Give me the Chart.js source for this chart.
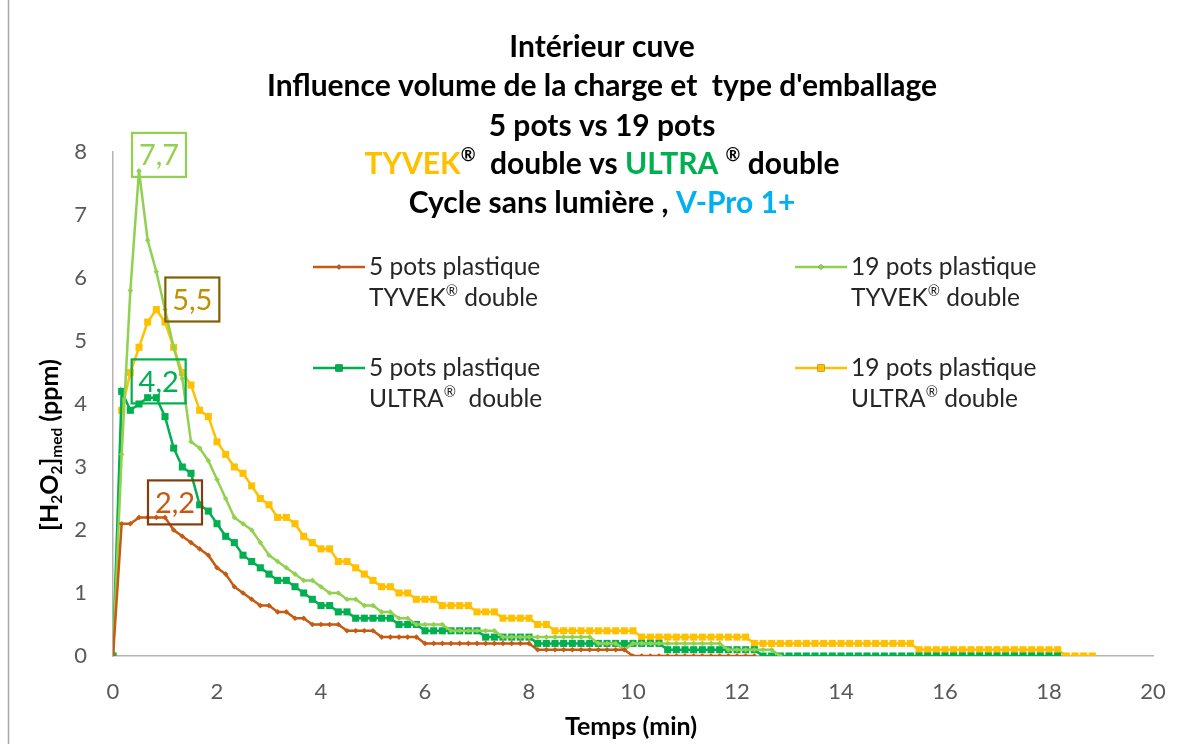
<!DOCTYPE html>
<html>
<head>
<meta charset="utf-8">
<script src="https://cdn.jsdelivr.net/npm/chart.js@4.4.1/dist/chart.umd.min.js"></script>
<style>
  html, body { margin: 0; padding: 0; background: #fff; }
  #wrap { width: 1192px; height: 744px; position: relative; }
</style>
</head>
<body>
<div id="wrap"><canvas id="chart" width="1192" height="744"></canvas></div>
<script>
(function () {
  'use strict';

  // one H2O2 reading every 10 s
  var stepMin = 10 / 60;

  var xTicks = [0, 2, 4, 6, 8, 10, 12, 14, 16, 18, 20];
  var yTicks = [0, 1, 2, 3, 4, 5, 6, 7, 8];

  var seriesNames = [
    ['5 pots plastique', 'TYVEK® double'],
    ['19 pots plastique', 'TYVEK® double'],
    ['5 pots plastique', 'ULTRA®  double'],
    ['19 pots plastique', 'ULTRA® double']
  ];

  // 5 pots plastique, TYVEK double
  var tyvek5 = [
    0, 2.1, 2.1, 2.2, 2.2, 2.2, 2.2, 2.0, 1.9, 1.8,
    1.7, 1.6, 1.4, 1.3, 1.1, 1.0, 0.9, 0.8, 0.8, 0.7,
    0.7, 0.6, 0.6, 0.5, 0.5, 0.5, 0.5, 0.4, 0.4, 0.4,
    0.4, 0.3, 0.3, 0.3, 0.3, 0.3, 0.2, 0.2, 0.2, 0.2,
    0.2, 0.2, 0.2, 0.2, 0.2, 0.2, 0.2, 0.2, 0.2, 0.1,
    0.1, 0.1, 0.1, 0.1, 0.1, 0.1, 0.1, 0.1, 0.1, 0.1,
    0, 0, 0, 0, 0, 0, 0, 0, 0, 0,
    0, 0, 0, 0, 0
  ];

  // 19 pots plastique, TYVEK double
  var tyvek19 = [
    0, 3.2, 5.8, 7.7, 6.6, 6.1, 5.5, 4.9, 4.4, 3.4,
    3.3, 3.1, 2.8, 2.5, 2.2, 2.1, 2.0, 1.8, 1.6, 1.5,
    1.4, 1.3, 1.2, 1.2, 1.1, 1.0, 1.0, 0.9, 0.9, 0.8,
    0.8, 0.7, 0.7, 0.6, 0.6, 0.5, 0.5, 0.5, 0.5, 0.4,
    0.4, 0.4, 0.4, 0.4, 0.4, 0.3, 0.3, 0.3, 0.3, 0.3,
    0.3, 0.3, 0.3, 0.3, 0.3, 0.3, 0.2, 0.2, 0.2, 0.1,
    0.2, 0.2, 0.2, 0.2, 0.2, 0.2, 0.2, 0.2, 0.2, 0.2,
    0.2, 0.1, 0.1, 0.1, 0.1, 0.1, 0.1, 0
  ];

  // 5 pots plastique, ULTRA double
  var ultra5 = [
    0, 4.2, 3.9, 4.0, 4.1, 4.1, 3.8, 3.3, 3.0, 2.9,
    2.4, 2.3, 2.1, 1.9, 1.8, 1.6, 1.5, 1.4, 1.3, 1.2,
    1.2, 1.1, 1.0, 0.9, 0.8, 0.8, 0.7, 0.7, 0.6, 0.6,
    0.6, 0.6, 0.6, 0.5, 0.5, 0.5, 0.4, 0.4, 0.4, 0.4,
    0.4, 0.4, 0.4, 0.3, 0.3, 0.3, 0.3, 0.3, 0.3, 0.2,
    0.2, 0.2, 0.2, 0.2, 0.2, 0.2, 0.2, 0.2, 0.2, 0.2,
    0.2, 0.2, 0.2, 0.2, 0.1, 0.1, 0.1, 0.1, 0.1, 0.1,
    0.1, 0.1, 0.1, 0.1, 0.1, 0, 0, 0, 0, 0,
    0, 0, 0, 0, 0, 0, 0, 0, 0, 0,
    0, 0, 0, 0, 0, 0, 0, 0, 0, 0,
    0, 0, 0, 0, 0, 0, 0, 0, 0, 0
  ];

  // 19 pots plastique, ULTRA double
  var ultra19 = [
    0, 3.9, 4.5, 4.9, 5.3, 5.5, 5.3, 4.9, 4.5, 4.3,
    3.9, 3.8, 3.4, 3.2, 3.0, 2.9, 2.7, 2.5, 2.4, 2.2,
    2.2, 2.1, 1.9, 1.8, 1.7, 1.7, 1.5, 1.5, 1.4, 1.3,
    1.2, 1.1, 1.1, 1.0, 1.0, 0.9, 0.9, 0.9, 0.8, 0.8,
    0.8, 0.8, 0.7, 0.7, 0.7, 0.6, 0.6, 0.6, 0.6, 0.5,
    0.5, 0.4, 0.4, 0.4, 0.4, 0.4, 0.4, 0.4, 0.4, 0.4,
    0.4, 0.3, 0.3, 0.3, 0.3, 0.3, 0.3, 0.3, 0.3, 0.3,
    0.3, 0.3, 0.3, 0.3, 0.2, 0.2, 0.2, 0.2, 0.2, 0.2,
    0.2, 0.2, 0.2, 0.2, 0.2, 0.2, 0.2, 0.2, 0.2, 0.2,
    0.2, 0.2, 0.2, 0.1, 0.1, 0.1, 0.1, 0.1, 0.1, 0.1,
    0.1, 0.1, 0.1, 0.1, 0.1, 0.1, 0.1, 0.1, 0.1, 0.1,
    0, 0, 0, 0
  ];

  var FONT = 'Lato, "Open Sans", sans-serif';
  var brown = '#C55A11';
  var lime = '#92D050';
  var green = '#00B050';
  var gold = '#FFC000';
  var axisGrey = '#B4B4B4';
  var tickGrey = '#595959';

  function toPoints(values) {
    return values.map(function (v, i) { return { x: i * stepMin, y: v }; });
  }

  function makeSet(idx, values, color, style, radius) {
    return {
      label: seriesNames[idx].join(' '),
      data: toPoints(values),
      borderColor: color,
      backgroundColor: color,
      borderWidth: 2.5,
      pointStyle: style,
      pointRadius: radius,
      pointBorderWidth: 0,
      pointBackgroundColor: color,
      tension: 0,
      fill: false
    };
  }

  // peak label boxes: border, text colour, offset from the peak point
  var peakBoxes = [
    { border: '#843C0C', text: brown, dx: 36, dy: -15 },
    { border: lime, text: lime, dx: 20, dy: -16 },
    { border: green, text: green, dx: 37, dy: -10 },
    { border: '#7F6000', text: '#BF9000', dx: 36, dy: -10 }
  ];

  // draws text runs (® raised, subscripts lowered) centred or left aligned on x
  function drawRuns(ctx, runs, x, y, size, weight, align) {
    var total = 0;
    function sz(r) { return r.sup ? size * 0.6 : (r.sub ? size * 0.62 : size); }
    runs.forEach(function (r) {
      ctx.font = weight + ' ' + sz(r) + 'px ' + FONT;
      r.w = ctx.measureText(r.t).width;
      total += r.w;
    });
    var cx = align === 'left' ? x : x - total / 2;
    ctx.textAlign = 'left';
    ctx.textBaseline = 'middle';
    runs.forEach(function (r) {
      ctx.font = weight + ' ' + sz(r) + 'px ' + FONT;
      ctx.fillStyle = r.c || '#000';
      var dy = r.sup ? -size * 0.28 : (r.sub ? size * 0.28 : 0);
      ctx.fillText(r.t, cx, y + dy);
      cx += r.w;
    });
    return total;
  }

  function regRuns(text, color) {
    var out = [];
    text.split('®').forEach(function (p, i) {
      if (i > 0) out.push({ t: '®', sup: true, c: color });
      if (p) out.push({ t: p, c: color });
    });
    return out;
  }

  var titleLines = [
    [{ t: 'Intérieur cuve' }],
    [{ t: "Influence volume de la charge et  type d'emballage" }],
    [{ t: '5 pots vs 19 pots' }],
    [{ t: 'TYVEK', c: gold }, { t: '®', sup: true }, { t: '  double vs ' },
     { t: 'ULTRA', c: green }, { t: ' ' }, { t: '®', sup: true }, { t: ' double' }],
    [{ t: 'Cycle sans lumière , ' }, { t: 'V-Pro 1+', c: '#00B0F0' }]
  ];

  var decorPlugin = {
    id: 'decor',
    beforeDraw: function (chart) {
      var ctx = chart.ctx;
      ctx.save();
      ctx.fillStyle = '#fff';
      ctx.fillRect(0, 0, chart.width, chart.height);
      ctx.strokeStyle = '#A6A6A6';
      ctx.lineWidth = 1.5;
      ctx.beginPath();
      ctx.moveTo(8.5, 0);
      ctx.lineTo(8.5, chart.height);
      ctx.stroke();
      ctx.restore();
    },
    afterDatasetsDraw: function (chart) {
      var ctx = chart.ctx;
      ctx.save();
      chart.data.datasets.forEach(function (ds, di) {
        var meta = chart.getDatasetMeta(di);
        var best = 0;
        ds.data.forEach(function (p, i) { if (p.y > ds.data[best].y) best = i; });
        var pt = meta.data[best];
        var box = peakBoxes[di];
        var cx = pt.x + box.dx, cy = pt.y + box.dy;
        ctx.strokeStyle = box.border;
        ctx.lineWidth = 2.2;
        ctx.strokeRect(cx - 27, cy - 22, 54, 44);
        ctx.font = '400 29px ' + FONT;
        ctx.fillStyle = box.text;
        ctx.textAlign = 'center';
        ctx.textBaseline = 'middle';
        ctx.fillText(ds.data[best].y.toFixed(1).replace('.', ','), cx, cy + 1);
      });
      ctx.restore();
    },
    afterDraw: function (chart) {
      var ctx = chart.ctx;
      ctx.save();

      // title block
      var lineY = [47, 86, 126, 164, 203];
      titleLines.forEach(function (runs, i) {
        drawRuns(ctx, runs, 602, lineY[i], 30, '700', 'center');
      });

      // legend, two columns of two entries
      var spots = [
        { x: 313, y: 267 }, { x: 795, y: 267 },
        { x: 313, y: 368 }, { x: 795, y: 368 }
      ];
      chart.data.datasets.forEach(function (ds, di) {
        var s = spots[di];
        ctx.strokeStyle = ds.borderColor;
        ctx.lineWidth = 2.5;
        ctx.beginPath();
        ctx.moveTo(s.x, s.y);
        ctx.lineTo(s.x + 52, s.y);
        ctx.stroke();
        Chart.helpers.drawPoint(ctx, {
          pointStyle: ds.pointStyle, radius: ds.pointRadius, borderWidth: 0
        }, s.x + 26, s.y);
        ctx.fillStyle = ds.borderColor;
        ctx.fill();
        drawRuns(ctx, [{ t: seriesNames[di][0], c: '#262626' }], s.x + 56, s.y, 24.5, '400', 'left');
        drawRuns(ctx, regRuns(seriesNames[di][1], '#262626'), s.x + 56, s.y + 31, 24.5, '400', 'left');
      });

      // y axis title with subscripts, rotated
      ctx.translate(50, 445);
      ctx.rotate(-Math.PI / 2);
      drawRuns(ctx, [
        { t: '[H' }, { t: '2', sub: true }, { t: 'O' }, { t: '2', sub: true },
        { t: ']' }, { t: 'med', sub: true }, { t: ' (ppm)' }
      ], 0, 0, 25, '700', 'center');
      ctx.setTransform(1, 0, 0, 1, 0, 0);

      // x axis title
      ctx.font = '700 25px ' + FONT;
      ctx.fillStyle = '#000';
      ctx.textAlign = 'center';
      ctx.textBaseline = 'middle';
      ctx.fillText('Temps (min)', 631, 727);
      ctx.restore();
    }
  };

  var ctx = document.getElementById('chart').getContext('2d');
  new Chart(ctx, {
    type: 'line',
    data: {
      datasets: [
        makeSet(0, tyvek5, brown, 'rectRot', 2.8),
        makeSet(1, tyvek19, lime, 'rectRot', 2.8),
        makeSet(2, ultra5, green, 'rect', 5),
        makeSet(3, ultra19, gold, 'rect', 5)
      ]
    },
    options: {
      responsive: false,
      animation: false,
      events: [],
      layout: { padding: { left: 0, top: 152, right: 39, bottom: 0 } },
      plugins: {
        legend: { display: false },
        title: { display: false },
        tooltip: { enabled: false }
      },
      scales: {
        x: {
          type: 'linear',
          min: 0,
          max: 20,
          afterFit: function (scale) { scale.height = 88; },
          afterBuildTicks: function (scale) {
            scale.ticks = xTicks.map(function (v) { return { value: v }; });
          },
          grid: { display: false, drawTicks: false },
          border: { display: true, color: axisGrey, width: 1.5 },
          ticks: { color: tickGrey, padding: 23, font: { family: FONT, size: 22 }, maxRotation: 0 }
        },
        y: {
          min: 0,
          max: 8,
          afterFit: function (scale) { scale.width = 113; },
          afterBuildTicks: function (scale) {
            scale.ticks = yTicks.map(function (v) { return { value: v }; });
          },
          grid: { display: false, drawTicks: false },
          border: { display: true, color: axisGrey, width: 1.5 },
          ticks: { color: tickGrey, padding: 26, font: { family: FONT, size: 22 } }
        }
      }
    },
    plugins: [decorPlugin]
  });
})();
</script>
</body>
</html>
